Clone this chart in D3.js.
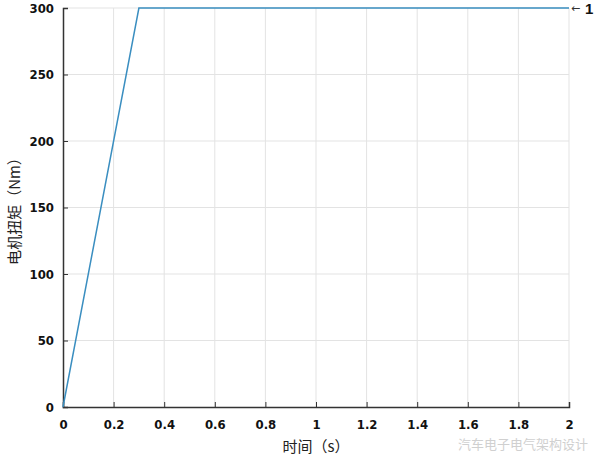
<!DOCTYPE html>
<html>
<head>
<meta charset="utf-8">
<script src="https://cdn.jsdelivr.net/npm/d3@7"></script>
<style>
  body { margin: 0; background: #fff; }
  .tick text { font-family: "DejaVu Sans Condensed", "DejaVu Sans", sans-serif; font-weight: bold; font-size: 13px; fill: #111; }
</style>
</head>
<body>
<script>
// torque curve: ramps up then holds
var timeVals = [0, 0.3, 2]
var torqueVals = [0, 300, 300]
var xTicks = [0, 0.2, 0.4, 0.6, 0.8, 1, 1.2, 1.4, 1.6, 1.8, 2]
var yTicks = [0, 50, 100, 150, 200, 250, 300]

var margin = { top: 8, right: 31, bottom: 59, left: 63 }
var width = 600 - margin.left - margin.right
var height = 466 - margin.top - margin.bottom

var svg = d3.select('body').append('svg')
  .attr('width', 600)
  .attr('height', 466)

var g = svg.append('g')
  .attr('transform', 'translate(' + margin.left + ',' + margin.top + ')')

var x = d3.scaleLinear().domain([0, 2]).range([0, width])
var y = d3.scaleLinear().domain([0, 300]).range([height, 0])

// grid
g.selectAll('line.vgrid').data(xTicks.slice(1)).enter().append('line')
  .attr('x1', d => x(d)).attr('x2', d => x(d))
  .attr('y1', 0).attr('y2', height)
  .attr('stroke', '#e3e3e3').attr('stroke-width', 1)
g.selectAll('line.hgrid').data(yTicks.slice(1)).enter().append('line')
  .attr('x1', 0).attr('x2', width)
  .attr('y1', d => y(d)).attr('y2', d => y(d))
  .attr('stroke', '#e3e3e3').attr('stroke-width', 1)

// axes
var xAxis = g.append('g')
  .attr('transform', 'translate(0,' + height + ')')
  .call(d3.axisBottom(x).tickValues(xTicks).tickSize(-5).tickPadding(13).tickFormat(d3.format('~g')))
xAxis.select('.domain').attr('stroke', '#333').attr('stroke-width', 1.5)
xAxis.selectAll('.tick line').attr('stroke', '#333')

var yAxis = g.append('g')
  .call(d3.axisLeft(y).tickValues(yTicks).tickSize(-5).tickPadding(9))
yAxis.select('.domain').attr('stroke', '#333').attr('stroke-width', 1.5)
yAxis.selectAll('.tick line').attr('stroke', '#333')

// data line
var pts = timeVals.map((t, i) => [t, torqueVals[i]])
g.append('path')
  .datum(pts)
  .attr('fill', 'none')
  .attr('stroke', '#3a8ec0')
  .attr('stroke-width', 1.5)
  .attr('d', d3.line().x(d => x(d[0])).y(d => y(d[1])))

// annotation at end of line
g.append('text')
  .attr('x', x(2) + 2).attr('y', y(300) + 4)
  .attr('font-family', 'DejaVu Sans, sans-serif')
  .attr('font-size', 11).attr('fill', '#333')
  .text('←')
g.append('text')
  .attr('x', x(2) + 16).attr('y', y(300) + 6)
  .attr('font-family', 'Liberation Sans, sans-serif')
  .attr('font-weight', 'bold')
  .attr('font-size', 15).attr('fill', '#111')
  .text('1')

// axis labels
svg.append('text')
  .attr('x', margin.left + width / 2).attr('y', 452)
  .attr('text-anchor', 'middle')
  .attr('font-family', '"Noto Sans CJK SC", sans-serif')
  .attr('font-size', 15).attr('fill', '#222')
  .text('时间（s）')

svg.append('text')
  .attr('transform', 'translate(20,' + (margin.top + height / 2) + ') rotate(-90)')
  .attr('text-anchor', 'middle')
  .attr('font-family', '"Noto Sans CJK SC", sans-serif')
  .attr('font-size', 15).attr('fill', '#222')
  .text('电机扭矩（Nm）')

// faint watermark
svg.append('text')
  .attr('x', 588).attr('y', 449)
  .attr('text-anchor', 'end')
  .attr('font-family', '"Noto Sans CJK SC", sans-serif')
  .attr('font-size', 13).attr('fill', '#d0d0d0')
  .text('汽车电子电气架构设计')
</script>
</body>
</html>
